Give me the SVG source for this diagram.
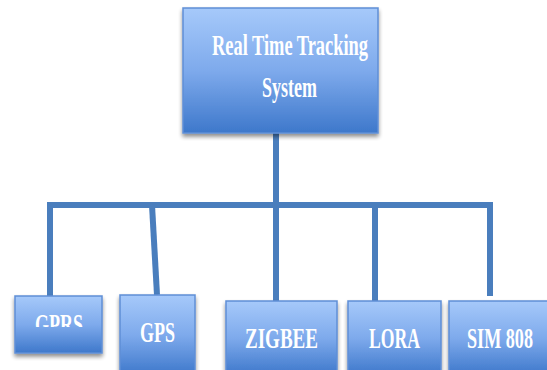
<svg xmlns="http://www.w3.org/2000/svg" width="547" height="370" viewBox="0 0 547 370">
<defs>
<linearGradient id="g" x1="0" y1="0" x2="0" y2="1">
<stop offset="0" stop-color="#a6c9fa"/>
<stop offset="0.5" stop-color="#7eaaec"/>
<stop offset="1" stop-color="#3e78cb"/>
</linearGradient>
<filter id="sh" x="-10%" y="-10%" width="120%" height="130%">
<feGaussianBlur in="SourceAlpha" stdDeviation="2"/>
<feOffset dx="0" dy="3" result="b"/>
<feComponentTransfer><feFuncA type="linear" slope="0.45"/></feComponentTransfer>
<feMerge><feMergeNode/><feMergeNode in="SourceGraphic"/></feMerge>
</filter>
<clipPath id="gprsclip"><rect x="15" y="296" width="87" height="31"/></clipPath>
</defs>
<style>
.box{fill:url(#g);stroke:#5f8fd6;stroke-width:1.5;filter:url(#sh)}
.lbl{font-family:"Liberation Serif","Times New Roman",serif;fill:#ffffff;text-anchor:middle;font-size:30px;font-weight:bold}
.con{stroke:#4a7ebd;stroke-width:6;fill:none;stroke-linecap:butt}
</style>
<g id="connectors">
<line class="con" x1="276" y1="133" x2="276" y2="205"/>
<line class="con" x1="50" y1="205" x2="491" y2="205"/>
<line class="con" x1="50" y1="202" x2="50" y2="296"/>
<line class="con" x1="152" y1="205" x2="157" y2="295"/>
<line class="con" x1="276" y1="205" x2="276" y2="301"/>
<line class="con" x1="375" y1="205" x2="375" y2="301"/>
<line class="con" x1="490" y1="202" x2="490" y2="296"/>
</g>
<g id="root">
<rect class="box" x="183" y="8" width="195" height="125"/>
<text class="lbl" x="290" y="55" textLength="156" lengthAdjust="spacingAndGlyphs">Real Time Tracking</text>
<text class="lbl" x="289.5" y="97" textLength="55" lengthAdjust="spacingAndGlyphs">System</text>
</g>
<g id="gprs">
<rect class="box" x="15" y="296" width="87" height="57"/>
<text class="lbl" x="59" y="334" textLength="48" lengthAdjust="spacingAndGlyphs" clip-path="url(#gprsclip)">GPRS</text>
</g>
<g id="gps">
<rect class="box" x="120" y="295" width="75" height="80"/>
<text class="lbl" x="157.5" y="342" textLength="35" lengthAdjust="spacingAndGlyphs">GPS</text>
</g>
<g id="zigbee">
<rect class="box" x="226" y="301" width="111" height="74"/>
<text class="lbl" x="281.5" y="348" textLength="73" lengthAdjust="spacingAndGlyphs">ZIGBEE</text>
</g>
<g id="lora">
<rect class="box" x="348" y="301" width="93" height="74"/>
<text class="lbl" x="394.5" y="348" textLength="51" lengthAdjust="spacingAndGlyphs">LORA</text>
</g>
<g id="sim808">
<rect class="box" x="449" y="301" width="105" height="74"/>
<text class="lbl" x="500" y="348" textLength="66" lengthAdjust="spacingAndGlyphs">SIM 808</text>
</g>
</svg>
